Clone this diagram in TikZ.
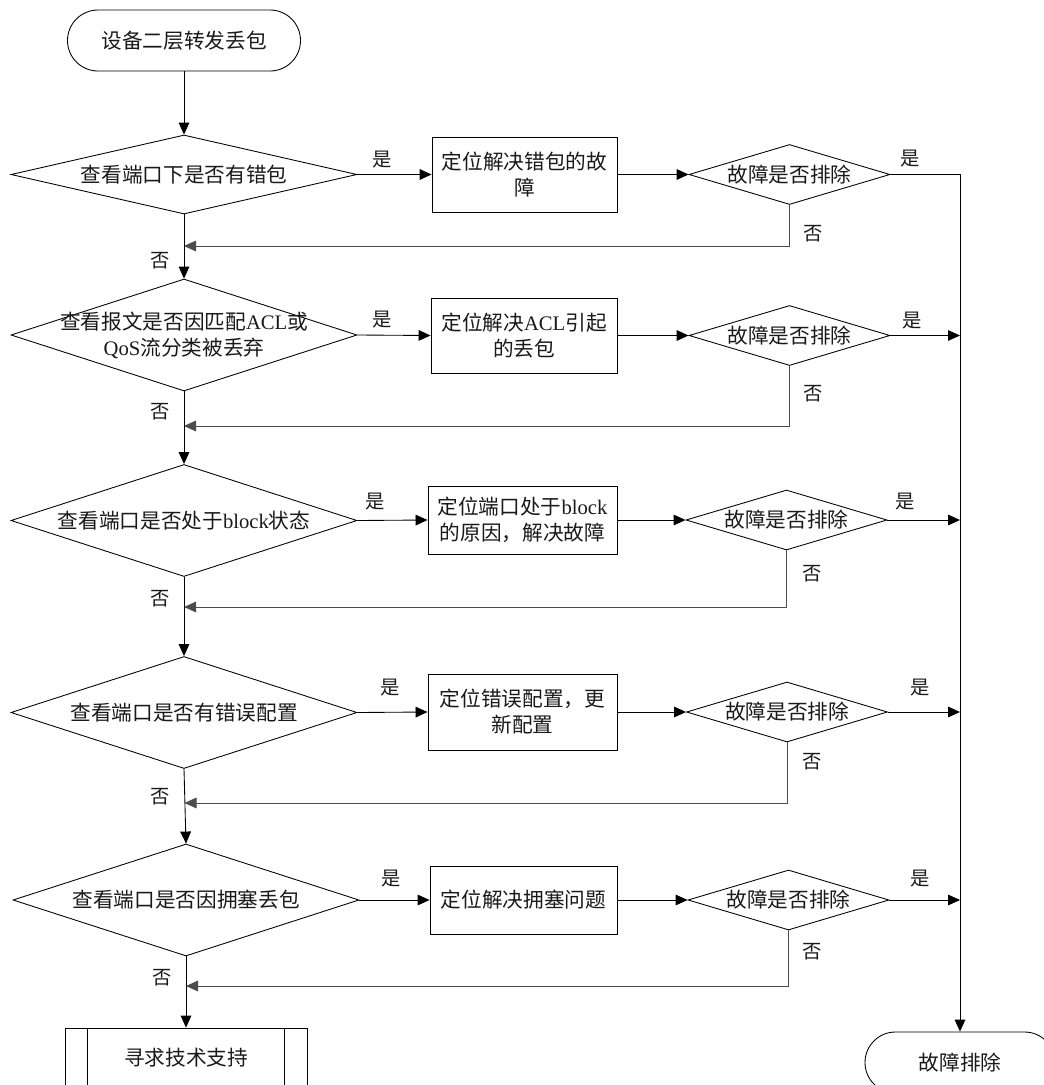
\documentclass[tikz,border=0pt]{standalone}
\usepackage{fontspec}
\setmainfont{Liberation Serif}
\newfontfamily\cjk{Noto Sans CJK SC}
\newcommand\latn[1]{{\rmfamily #1}}
\usetikzlibrary{shapes.geometric,shapes.misc,arrows.meta}
\tikzset{
  ln/.style={draw=black, line width=0.65pt},
  arr/.style={ln, -{Triangle[length=9pt,width=8pt]}},
  back/.style={arr, draw=black!70},
  txt/.style={font=\cjk\fontsize{15.5}{19.5}\selectfont, align=center, inner sep=0pt, text=black!90},
  lbl/.style={font=\cjk\fontsize{14.5}{17}\selectfont, inner sep=0pt, text=black!90},
  dia/.style={diamond, ln, inner sep=0pt, minimum width=259.5pt, minimum height=84pt},
  sdia/.style={diamond, ln, inner sep=0pt, minimum width=150.75pt, minimum height=45pt},
  proc/.style={rectangle, ln, inner sep=0pt, minimum width=140pt, minimum height=56.25pt, txt},
  term/.style={rounded rectangle, ln, inner sep=0pt, minimum width=174.75pt, minimum height=45.75pt, txt},
}
\begin{document}
\begin{tikzpicture}[x=0.75pt,y=-0.75pt]
\useasboundingbox (0,0) rectangle (1044,1085);
\clip (0,0) rectangle (1044,1085);

% start
\node[term] (st) at (184,40.5) {设备二层转发丢包};

% main decisions
\node[dia, minimum height=59.25pt] (d1) at (184,174.5) {};
\node[txt] (d1t) at (d1.center) {查看端口下是否有错包};
\node[dia] (d2) at (184,335) {};
\node[txt] (d2t) at (d2.center) {查看报文是否因匹配\latn{ACL}或\\\latn{QoS}流分类被丢弃};
\node[dia] (d3) at (184,520.5) {};
\node[txt] (d3t) at (d3.center) {查看端口是否处于\latn{block}状态};
\node[dia] (d4) at (184,712.5) {};
\node[txt] (d4t) at (d4.center) {查看端口是否有错误配置};
\node[dia] (d5) at (186,900) {};
\node[txt] (d5t) at (d5.center) {查看端口是否因拥塞丢包};

% process boxes
\node[proc, minimum width=138.75pt] (b1) at (524.5,174.5) {定位解决错包的故\\障};
\node[proc, minimum width=139.5pt] (b2) at (524,335.5) {定位解决\latn{ACL}引起\\的丢包};
\node[proc, minimum width=141.75pt, minimum height=51pt] (b3) at (522.5,520) {定位端口处于\latn{block}\\的原因，解决故障};
\node[proc, minimum width=141.75pt, minimum height=57pt] (b4) at (522.5,712) {定位错误配置，更\\新配置};
\node[proc, minimum width=140.25pt, minimum height=51pt] (b5) at (523.5,900) {定位解决拥塞问题};

% small decisions
\node[sdia] (s1) at (789.5,174.5) {};
\node[txt] (s1t) at (s1.center) {故障是否排除};
\node[sdia] (s2) at (789.5,335.5) {};
\node[txt] (s2t) at (s2.center) {故障是否排除};
\node[sdia] (s3) at (786.5,520) {};
\node[txt] (s3t) at (s3.center) {故障是否排除};
\node[sdia] (s4) at (787,712) {};
\node[txt] (s4t) at (s4.center) {故障是否排除};
\node[sdia] (s5) at (788.5,900) {};
\node[txt] (s5t) at (s5.center) {故障是否排除};

% end nodes
\node[term, minimum width=142.5pt] (en) at (960,1062.5) {故障排除};
\node[rectangle, ln, minimum width=181.5pt, minimum height=45pt, txt] (sup) at (186,1058) {寻求技术支持};
\draw[ln] ([xshift=17.25pt]sup.north west) -- ([xshift=17.25pt]sup.south west);
\draw[ln] ([xshift=-17.25pt]sup.north east) -- ([xshift=-17.25pt]sup.south east);

% return points on main column
\coordinate (r1) at (184,246);
\coordinate (r2) at (184,426);
\coordinate (r3) at (184,607);
\coordinate (r4) at (184.5,803);
\coordinate (r5) at (186,986);

% main column
\draw[arr] (st.south) -- (d1.north);
\draw[arr] (d1.south) -- (d2.north);
\draw[arr] (d2.south) -- (d3.north);
\draw[arr] (d3.south) -- (d4.north);
\draw[arr] (d4.south) -- (d5.north);
\draw[arr] (d5.south) -- (sup.north);

% yes branches
\foreach \i in {1,...,5}{
  \draw[arr] (d\i.east) -- (b\i.west);
  \draw[arr] (b\i.east) -- (s\i.west);
}
\draw[arr] (s1.east) -| (en.north);
\foreach \i in {2,...,5}{
  \draw[arr] (s\i.east) -- (s\i.east -| en.north);
}

% no branches back
\foreach \i in {1,...,5}{
  \draw[back] (s\i.south) |- (r\i);
}

% labels
\node[lbl] (y1) at (382,160) {是};
\node[lbl] (y2) at (382,320) {是};
\node[lbl] (y3) at (375,502) {是};
\node[lbl] (y4) at (390,688) {是};
\node[lbl] (y5) at (391,879) {是};
\node[lbl] (ys1) at (910,159) {是};
\node[lbl] (ys2) at (912,321) {是};
\node[lbl] (ys3) at (905,502) {是};
\node[lbl] (ys4) at (920,688) {是};
\node[lbl] (ys5) at (920,879) {是};
\node[lbl] (ns1) at (813,234) {否};
\node[lbl] (ns2) at (813,394) {否};
\node[lbl] (ns3) at (812,574) {否};
\node[lbl] (ns4) at (812,762) {否};
\node[lbl] (ns5) at (812,952) {否};
\node[lbl] (n1) at (160,261) {否};
\node[lbl] (n2) at (160,412) {否};
\node[lbl] (n3) at (160,599) {否};
\node[lbl] (n4) at (160,797) {否};
\node[lbl] (n5) at (162,978) {否};
\end{tikzpicture}
\end{document}
